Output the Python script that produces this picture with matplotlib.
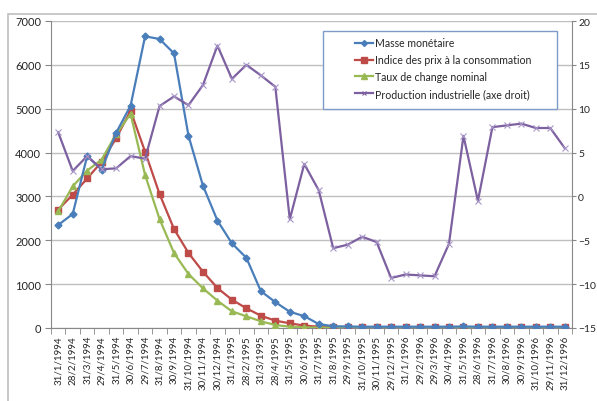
import matplotlib
matplotlib.use("Agg")
import matplotlib.pyplot as plt
from matplotlib.patches import Rectangle
from matplotlib.lines import Line2D

plt.rcParams['font.family'] = ['Lato', 'DejaVu Sans']

dates = [
    "31/1/1994", "28/2/1994", "31/3/1994", "29/4/1994", "31/5/1994", "30/6/1994",
    "29/7/1994", "31/8/1994", "30/9/1994", "31/10/1994", "30/11/1994", "30/12/1994",
    "31/1/1995", "28/2/1995", "31/3/1995", "28/4/1995", "31/5/1995", "30/6/1995",
    "31/7/1995", "31/8/1995", "29/9/1995", "31/10/1995", "30/11/1995", "29/12/1995",
    "31/1/1996", "29/2/1996", "29/3/1996", "30/4/1996", "31/5/1996", "28/6/1996",
    "31/7/1996", "30/8/1996", "30/9/1996", "31/10/1996", "29/11/1996", "31/12/1996",
]

masse_monetaire = [
    2350, 2600, 3920, 3610, 4450, 5070, 6650, 6590, 6260, 4385, 3245, 2450,
    1930, 1600, 840, 590, 370, 270, 90, 40, 35, 30, 30, 30,
    30, 30, 30, 30, 35, 30, 30, 30, 30, 30, 30, 30,
]
indice_prix = [
    2700, 3040, 3410, 3790, 4325, 4955, 4020, 3055, 2257, 1710, 1284, 912,
    645, 449, 281, 167, 107, 55, 30, 20, 20, 20, 20, 20,
    20, 20, 20, 20, 20, 20, 20, 20, 20, 20, 20, 20,
]
taux_change = [
    2660, 3230, 3590, 3840, 4420, 4880, 3490, 2485, 1710, 1231, 905, 623,
    380, 267, 153, 68, 30, 15, 10, 8, 8, 8, 8, 8,
    8, 8, 8, 8, 8, 8, 8, 8, 8, 8, 8, 8,
]
production_industrielle = [
    7.3, 2.9, 4.6, 3.1, 3.2, 4.6, 4.3, 10.3, 11.4, 10.4, 12.7, 17.2,
    13.4, 15.0, 13.8, 12.5, -2.6, 3.7, 0.7, -5.9, -5.5, -4.6, -5.2, -9.3,
    -8.9, -9.0, -9.1, -5.4, 6.9, -0.5, 7.9, 8.1, 8.3, 7.8, 7.8, 5.5,
]

labels = ["Masse monétaire", "Indice des prix à la consommation",
          "Taux de change nominal", "Production industrielle (axe droit)"]

c_blue = "#4A7EBB"
c_red = "#BE4B48"
c_green = "#98B954"
c_purple = "#7D60A0"
c_text = "#262626"

fig = plt.figure(figsize=(5.97, 4.02), dpi=100)
W, H = 597, 402

# outer chart frame
fig.patches.append(Rectangle((8 / W, -0.05), 1.0, 1 - 15 / H + 0.05,
                             transform=fig.transFigure, fill=False,
                             edgecolor="#BFBFBF", linewidth=1.2))

ax = fig.add_axes([51 / W, 1 - 329 / H, (572 - 51) / W, (329 - 22) / H])
ax2 = ax.twinx()

x = list(range(len(dates)))
lw = 1.6
ax.plot(x, masse_monetaire, color=c_blue, lw=lw, marker="D", ms=3.5, zorder=4)
ax.plot(x, indice_prix, color=c_red, lw=lw, marker="s", ms=4.5, zorder=3)
ax.plot(x, taux_change, color=c_green, lw=lw, marker="^", ms=4.5, zorder=3)
ax2.plot(x, production_industrielle, color=c_purple, lw=lw, marker="x", ms=4,
         mew=0.8, mec="#A896C8")

ax.set_xlim(-0.5, len(dates) - 0.5)
ax.set_ylim(0, 7000)
ax.set_yticks(range(0, 7001, 1000))
ax2.set_ylim(-15, 20)
ax2.set_yticks(range(-15, 21, 5))

ax.grid(axis="y", color="#BFBFBF", lw=1.0)
ax.set_axisbelow(True)

ax.set_xticks(x)
ax.set_xticklabels(dates, rotation=90, fontsize=7, color=c_text)
ax.set_xticks([i - 0.5 for i in range(len(dates) + 1)], minor=True)
ax.tick_params(axis="x", which="major", length=0, pad=5)
ax.tick_params(axis="x", which="minor", length=4, color="#888888")
ax.tick_params(axis="y", length=4, color="#888888", labelsize=8,
               labelcolor=c_text, pad=3)
ax2.tick_params(axis="y", length=3, color="#888888", labelsize=7.5,
                labelcolor=c_text, pad=1.5)

for a in (ax, ax2):
    for s in a.spines.values():
        s.set_visible(False)
ax.spines["left"].set_visible(True)
ax.spines["left"].set_color("#888888")
ax.spines["bottom"].set_visible(True)
ax.spines["bottom"].set_color("#888888")
ax2.spines["right"].set_visible(True)
ax2.spines["right"].set_color("#888888")

# legend box
fig.patches.append(Rectangle((323 / W, 1 - 110 / H), (557 - 323) / W, (110 - 32) / H,
                             transform=fig.transFigure, facecolor="white",
                             edgecolor="#7E9BC8", linewidth=1.0, zorder=5))
handles = [
    Line2D([], [], color=c_blue, lw=lw, marker="D", ms=3),
    Line2D([], [], color=c_red, lw=lw, marker="s", ms=4),
    Line2D([], [], color=c_green, lw=lw, marker="^", ms=4),
    Line2D([], [], color=c_purple, lw=lw, marker="x", ms=3.5, mew=0.8),
]
leg = fig.legend(handles, labels, loc="upper left",
                 bbox_to_anchor=(348 / W, 1 - 31 / H), frameon=False,
                 fontsize=7.6, handlelength=1.7, handletextpad=0.2,
                 labelspacing=0.55, borderpad=0.2, labelcolor=c_text)
leg.set_zorder(6)

fig.savefig("out.png", dpi=100)
